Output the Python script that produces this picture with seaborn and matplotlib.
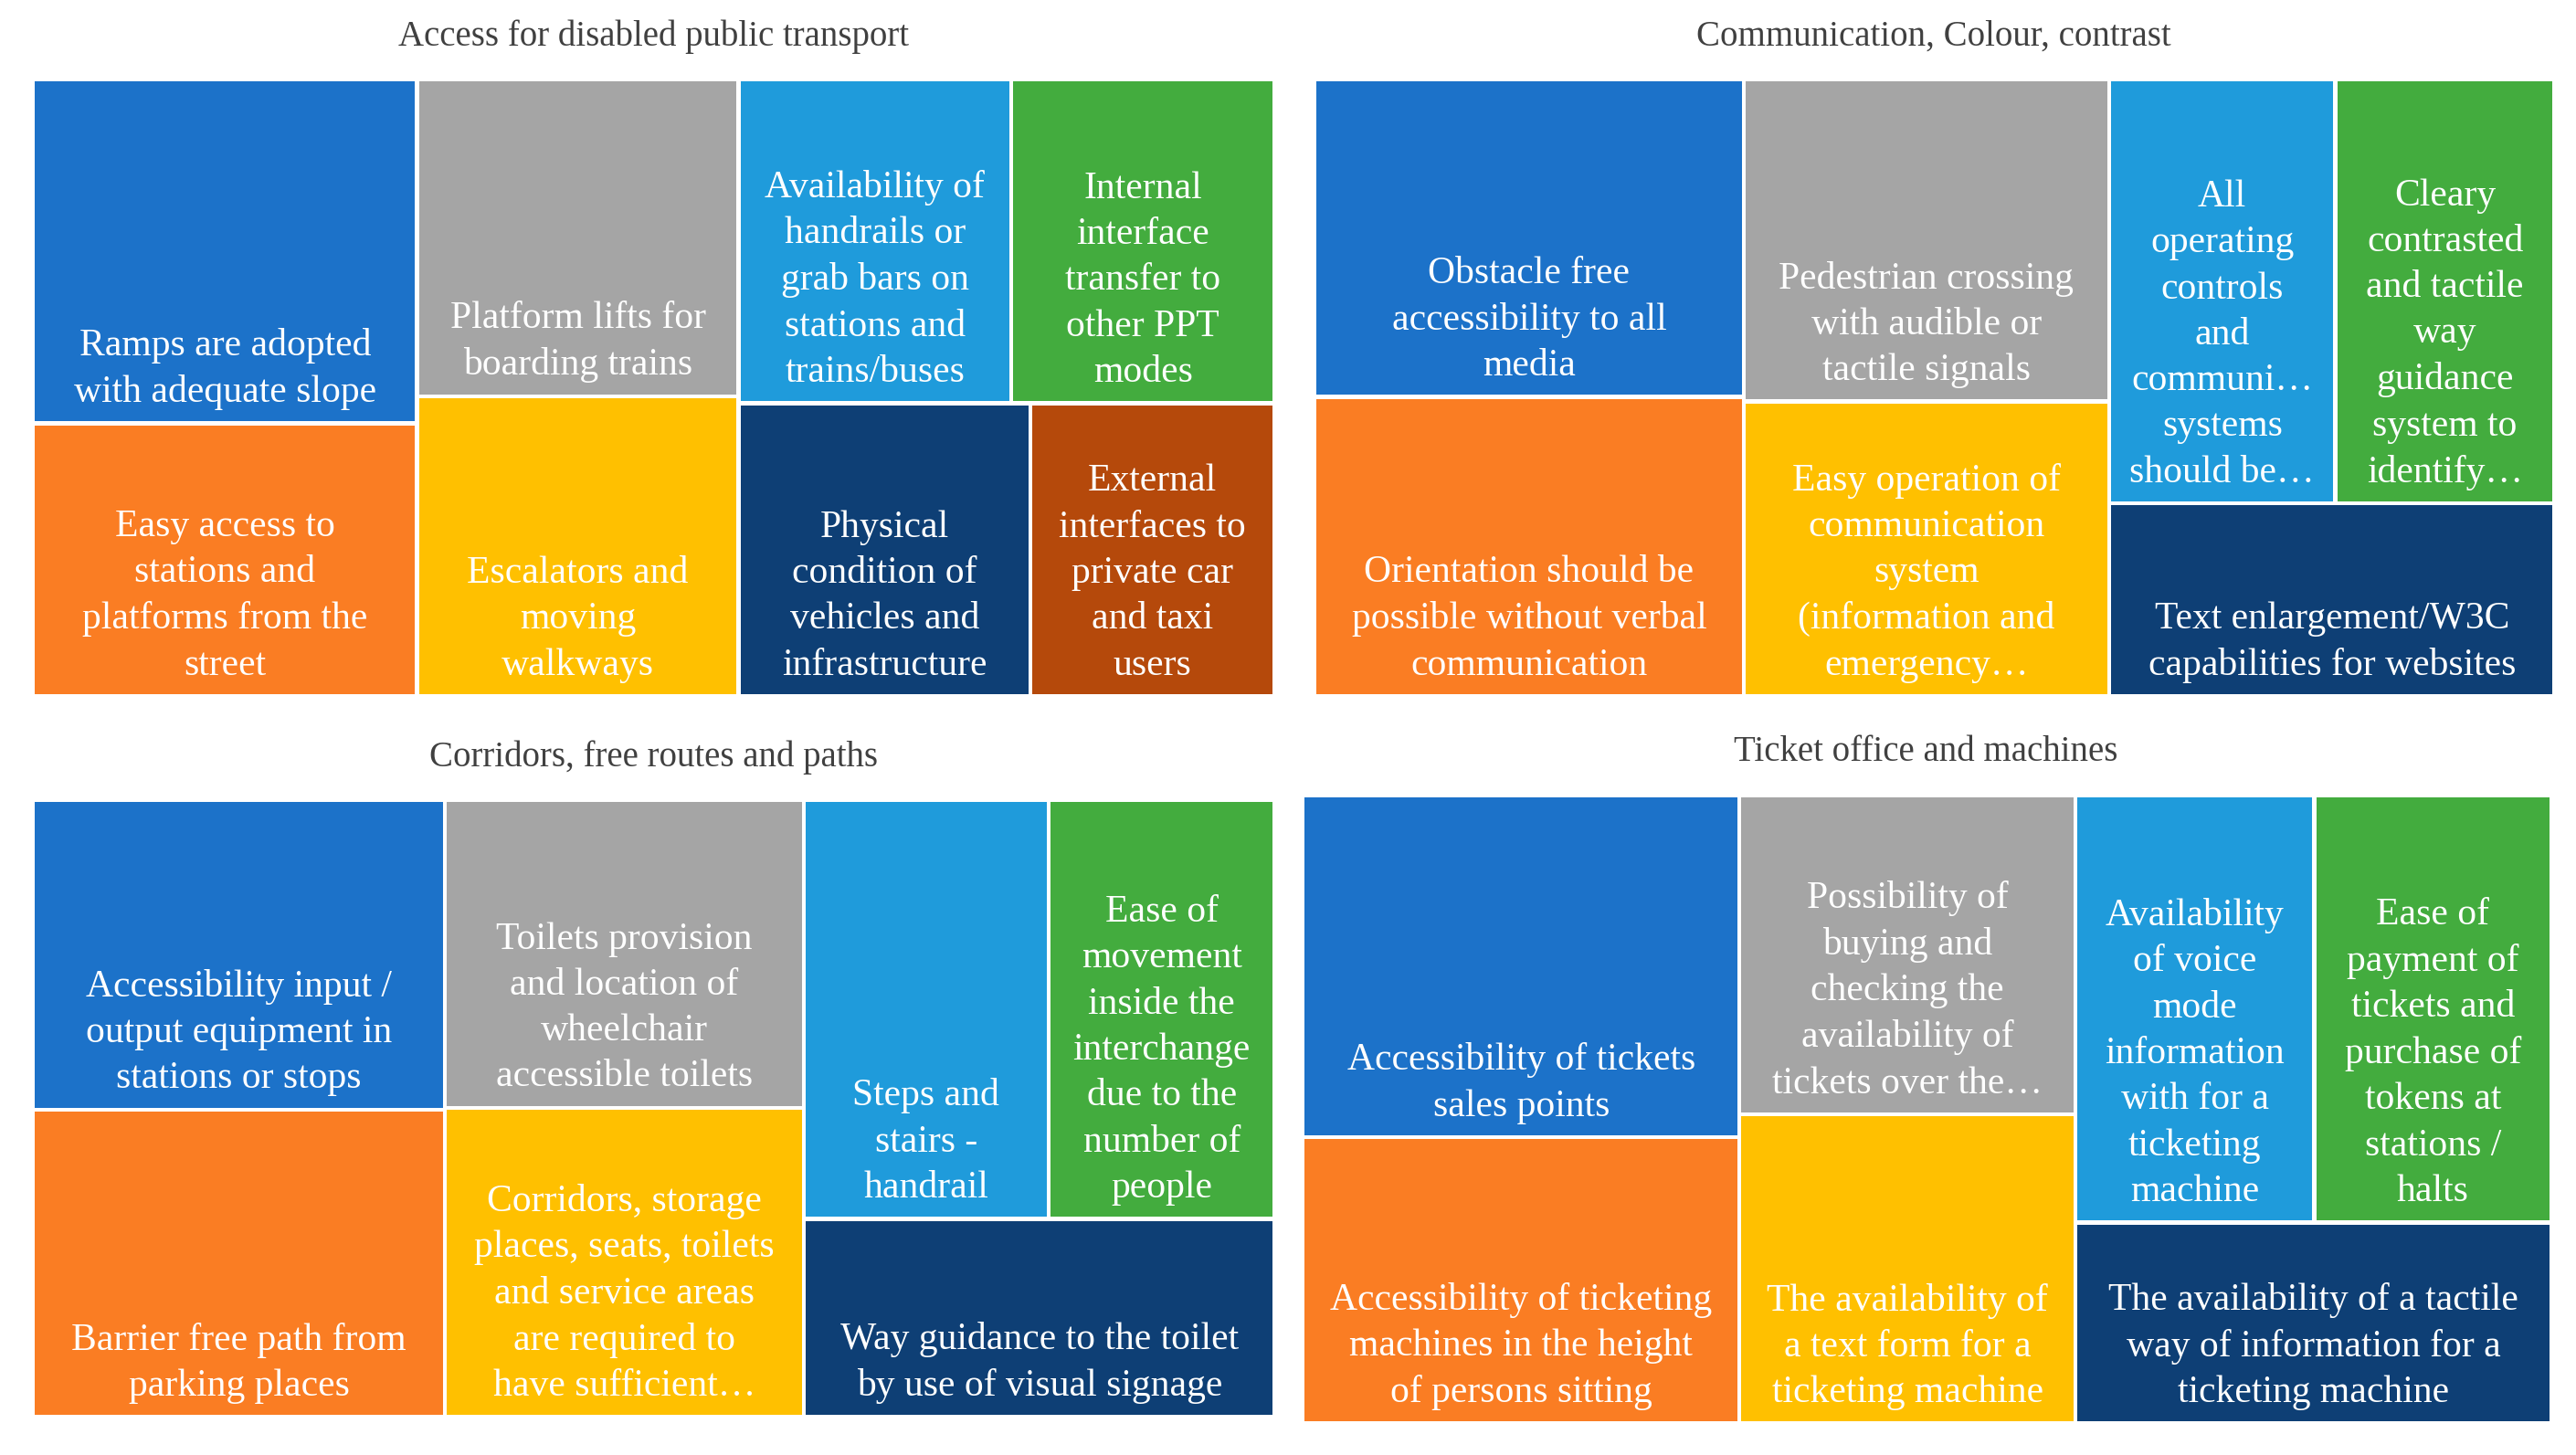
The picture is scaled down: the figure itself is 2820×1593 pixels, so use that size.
import matplotlib
matplotlib.use("Agg")
import matplotlib.pyplot as plt
import seaborn as sns
from matplotlib.patches import Rectangle

sns.set_theme(style="white")
plt.rcParams['font.family'] = ['Liberation Serif', 'DejaVu Serif']

colors = ["#1C72C9", "#FA7D23", "#A5A5A5", "#FFC000", "#1F9BDB", "#43AC3E", "#0E3F75", "#B5490B"]

titles = ["Access for disabled public transport", "Communication, Colour, contrast",
          "Corridors, free routes and paths", "Ticket office and machines"]

labels1 = ["Ramps are adopted\nwith adequate slope", "Easy access to\nstations and\nplatforms from the\nstreet",
           "Platform lifts for\nboarding trains", "Escalators and\nmoving\nwalkways",
           "Availability of\nhandrails or\ngrab bars on\nstations and\ntrains/buses", "Internal\ninterface\ntransfer to\nother PPT\nmodes",
           "Physical\ncondition of\nvehicles and\ninfrastructure", "External\ninterfaces to\nprivate car\nand taxi\nusers"]
values1 = [48, 38, 37, 35, 32, 31, 31, 26]

labels2 = ["Obstacle free\naccessibility to all\nmedia", "Orientation should be\npossible without verbal\ncommunication",
           "Pedestrian crossing\nwith audible or\ntactile signals", "Easy operation of\ncommunication\nsystem\n(information and\nemergency…",
           "All\noperating\ncontrols\nand\ncommuni…\nsystems\nshould be…", "Cleary\ncontrasted\nand tactile\nway\nguidance\nsystem to\nidentify…",
           "Text enlargement/W3C\ncapabilities for websites"]
values2 = [49.7, 46.9, 42.9, 39.2, 35.0, 33.9, 31.3]

labels3 = ["Accessibility input /\noutput equipment in\nstations or stops", "Barrier free path from\nparking places",
           "Toilets provision\nand location of\nwheelchair\naccessible toilets", "Corridors, storage\nplaces, seats, toilets\nand service areas\nare required to\nhave sufficient…",
           "Steps and\nstairs -\nhandrail", "Ease of\nmovement\ninside the\ninterchange\ndue to the\nnumber of\npeople",
           "Way guidance to the toilet\nby use of visual signage"]
values3 = [46.4, 46.1, 40.2, 40.4, 37.3, 34.5, 34.0]

labels4 = ["Accessibility of tickets\nsales points", "Accessibility of ticketing\nmachines in the height\nof persons sitting",
           "Possibility of\nbuying and\nchecking the\navailability of\ntickets over the…", "The availability of\na text form for a\nticketing machine",
           "Availability\nof voice\nmode\ninformation\nwith for a\nticketing\nmachine", "Ease of\npayment of\ntickets and\npurchase of\ntokens at\nstations /\nhalts",
           "The availability of a tactile\nway of information for a\nticketing machine"]
values4 = [54.6, 45.7, 39.2, 38.0, 37.3, 37.0, 35.0]

structs = [([0, 1], [2, 3], [4, 5], [6, 7]),
           ([0, 1], [2, 3], [4, 5], [6]),
           ([0, 1], [2, 3], [4, 5], [6]),
           ([0, 1], [2, 3], [4, 5], [6])]

W, H = 1568, 880
boxes = [(20, 48, 756, 373), (800, 48, 755, 373), (20, 484, 756, 373), (793, 481, 760, 380)]
title_y = [22, 22, 458, 455]
title_x = [398, 1177, 398, 1172]

fig = plt.figure(figsize=(14.1, 7.965), dpi=200)
ax = fig.add_axes([0, 0, 1, 1])
ax.set_xlim(0, W)
ax.set_ylim(H, 0)
ax.axis("off")

gap = 2.5
def rect(x, y, w, h, c, lab):
    ax.add_patch(Rectangle((x + gap/2, y + gap/2), w - gap, h - gap, facecolor=c, edgecolor="none"))
    ax.text(x + w/2, y + h - 8, lab, ha="center", va="bottom", color="white",
            fontsize=15, linespacing=1.4)

all_labels = [labels1, labels2, labels3, labels4]
all_values = [values1, values2, values3, values4]
for p in range(4):
    labs, vals = all_labels[p], all_values[p]
    c1, c2, top, bot = structs[p]
    bx, by, bw, bh = boxes[p]
    groups = [c1, c2, top + bot]
    total = sum(vals)
    x = bx
    for gi, g in enumerate(groups):
        gs = sum(vals[i] for i in g)
        gw = bw * gs / total
        if gi < 2:
            y = by
            for i in g:
                h = bh * vals[i] / gs
                rect(x, y, gw, h, colors[i], labs[i])
                y += h
        else:
            y = by
            for row in (top, bot):
                rs = sum(vals[i] for i in row)
                rh = bh * rs / gs
                xx = x
                for i in row:
                    w = gw * vals[i] / rs
                    rect(xx, y, w, rh, colors[i], labs[i])
                    xx += w
                y += rh
        x += gw
    ax.text(title_x[p], title_y[p], titles[p], ha="center", va="center",
            fontsize=14, color="#404040")

fig.savefig("out.png", dpi=200, facecolor="white")
